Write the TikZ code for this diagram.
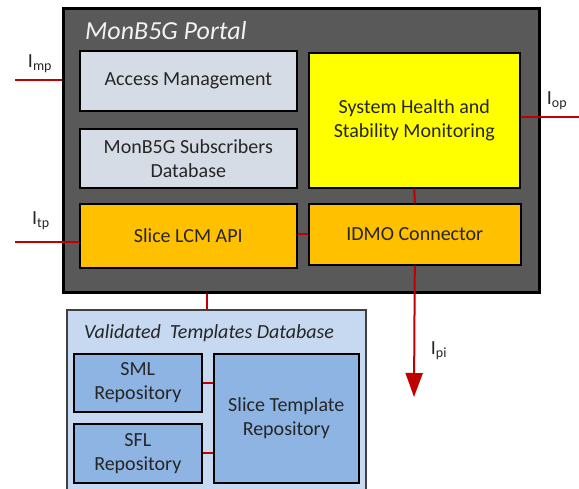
\documentclass[tikz,border=0pt]{standalone}
\usepackage{fontspec}
\setmainfont{Carlito}
\usetikzlibrary{arrows.meta}

\definecolor{portalgray}{HTML}{595959}
\definecolor{boxgray}{HTML}{D6DCE5}
\definecolor{boxorange}{HTML}{FFC000}
\definecolor{boxyellow}{HTML}{FFFF00}
\definecolor{dbblue}{HTML}{C6D9F1}
\definecolor{repoblue}{HTML}{8EB4E3}
\definecolor{ifred}{HTML}{C00000}
\definecolor{txt}{HTML}{262626}

\begin{document}
\begin{tikzpicture}[%
    x=1pt, y=-1pt,
    font=\fontsize{20}{24}\selectfont,
    portal/.style={
      rectangle,
      draw=black,
      line width=3pt,
      fill=portalgray,
      anchor=north west,
      inner sep=0pt
    },
    block/.style={
      rectangle,
      draw=black,
      line width=1.6pt,
      anchor=north west,
      inner sep=0pt,
      align=center,
      text=txt
    },
    title/.style={
      anchor=west,
      inner sep=0pt,
      font=\fontsize{26}{30}\selectfont\itshape
    },
    link/.style={
      draw=ifred,
      line width=2pt
    },
    iface/.style={
      inner sep=0pt,
      text=txt,
      font=\fontsize{20}{24}\selectfont
    }
  ]
  \useasboundingbox (0,0) rectangle (579,488);

  % portal
  \node[portal, minimum width=476pt, minimum height=284pt] (portal) at (62,7) {};
  \node[title, text=white!95!black] (ptitle) at (85,31) {MonB5G Portal};
  \node[block, fill=boxgray, minimum width=217pt, minimum height=60pt] (access) at (79,50) {Access Management};
  \node[block, fill=boxgray, minimum width=217pt, minimum height=59pt] (subs) at (79,128) {MonB5G Subscribers\\Database};
  \node[block, fill=boxorange, minimum width=217pt, minimum height=64pt] (lcm) at (79,203) {Slice LCM API};
  \node[block, fill=boxyellow, minimum width=211pt, minimum height=135pt] (health) at (308,52) {System Health and\\Stability Monitoring};
  \node[block, fill=boxorange, minimum width=212pt, minimum height=61pt] (idmo) at (308,203) {IDMO Connector};

  % templates database
  \node[block, draw=black!75, fill=dbblue, minimum width=299pt, minimum height=181pt] (vtd) at (66,309) {};
  \node[title, font=\fontsize{20}{24}\selectfont\itshape, text=txt] (vtitle) at (84,333) {Validated\ \ Templates Database};
  \node[block, fill=repoblue, minimum width=128pt, minimum height=58pt] (sml) at (73,353) {SML\\Repository};
  \node[block, fill=repoblue, minimum width=128pt, minimum height=59pt] (sfl) at (73,423) {SFL\\Repository};
  \node[block, fill=repoblue, minimum width=145pt, minimum height=129pt] (slicerepo) at (213,353) {Slice Template\\Repository};

  % interfaces
  \coordinate (mp) at (15,80);
  \coordinate (tp) at (15,242);
  \coordinate (op) at (579,117);
  \coordinate (pi) at (414,397);
  \coordinate (pv) at (207,300);
  \draw[link] (mp) -- (mp -| portal.west);
  \draw[link] (tp) -- (tp -| lcm.west);
  \draw[link] (health.east |- op) -- (op);
  \draw[link] (health.south) -- (idmo.north);
  \draw[link] (idmo.west) -- (idmo.west -| lcm.east);
  \draw[link, -{Triangle[length=24pt, width=17pt]}] (idmo.south) -- (pi);
  \draw[link] (portal.south -| pv) -- (vtd.north -| pv);
  \draw[link] (sml.east) -- (sml.east -| slicerepo.west);
  \draw[link] (sfl.east) -- (sfl.east -| slicerepo.west);

  \node[iface] (lmp) at (40,64) {I\textsubscript{mp}};
  \node[iface] (ltp) at (41,221) {I\textsubscript{tp}};
  \node[iface] (lop) at (557,101) {I\textsubscript{op}};
  \node[iface] (lpi) at (439,351) {I\textsubscript{pi}};
\end{tikzpicture}
\end{document}
